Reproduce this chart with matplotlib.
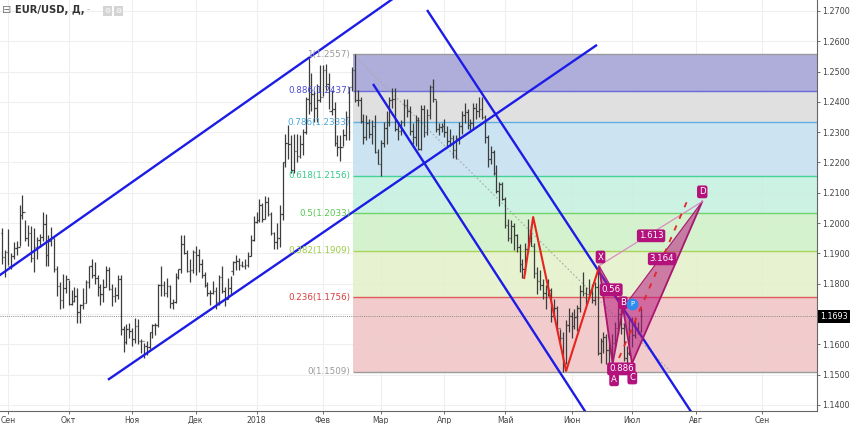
import numpy as np
import pandas as pd
import matplotlib
matplotlib.use("Agg")
import matplotlib.pyplot as plt
from matplotlib.collections import LineCollection
from matplotlib.patches import Polygon, Rectangle, Circle

# ---------------- data: EUR/USD daily bars (30 Aug 2017 .. 5 Jul 2018) ----------------
first_open = 1.1967
high = [
    1.1985, 1.1910, 1.1980,
    1.1900, 1.1938, 1.1940, 1.2060, 1.2092,
    1.2010, 1.1995, 1.1990, 1.1985, 1.1955,
    1.1965, 1.2035, 1.2030, 1.1960, 1.1987,
    1.1950, 1.1860, 1.1807, 1.1833, 1.1830,
    1.1813, 1.1780, 1.1790, 1.1785, 1.1733,
    1.1785, 1.1812, 1.1860, 1.1880, 1.1870,
    1.1830, 1.1800, 1.1815, 1.1860, 1.1855,
    1.1800, 1.1790, 1.1830, 1.1830, 1.1660,
    1.1668, 1.1670, 1.1655, 1.1688, 1.1685,
    1.1617, 1.1605, 1.1610, 1.1640, 1.1667,
    1.1670, 1.1800, 1.1860, 1.1810, 1.1820,
    1.1795, 1.1750, 1.1835, 1.1850, 1.1960,
    1.1960, 1.1910, 1.1880, 1.1910, 1.1925,
    1.1915, 1.1880, 1.1840, 1.1805, 1.1780,
    1.1810, 1.1790, 1.1830, 1.1860, 1.1790,
    1.1820, 1.1825, 1.1875, 1.1895, 1.1885,
    1.1875, 1.1880, 1.1905, 1.1960, 1.2025,
    1.2035, 1.2080, 1.2065, 1.2090, 1.2085,
    1.2035, 1.1970, 1.2000, 1.2060, 1.2200,
    1.2295, 1.2325, 1.2290, 1.2295, 1.2295,
    1.2290, 1.2310, 1.2415, 1.2545, 1.2495,
    1.2435, 1.2460, 1.2520, 1.2520, 1.2525,
    1.2495, 1.2440, 1.2400, 1.2290, 1.2290,
    1.2310, 1.2370, 1.2450, 1.2515, 1.2557,
    1.2440, 1.2415, 1.2360, 1.2355, 1.2345,
    1.2340, 1.2355, 1.2245, 1.2275, 1.2335,
    1.2370, 1.2415, 1.2445, 1.2445, 1.2335,
    1.2340, 1.2410, 1.2410, 1.2385, 1.2330,
    1.2355, 1.2350, 1.2390, 1.2390, 1.2375,
    1.2455, 1.2477, 1.2405, 1.2330, 1.2330,
    1.2345, 1.2320, 1.2310, 1.2290, 1.2290,
    1.2335, 1.2370, 1.2395, 1.2375, 1.2345,
    1.2395, 1.2395, 1.2415, 1.2415, 1.2355,
    1.2290, 1.2255, 1.2240, 1.2190, 1.2135,
    1.2135, 1.2085, 1.2015, 1.2010, 1.2000,
    1.1965, 1.1930, 1.1880, 1.1935, 1.2015,
    1.1995, 1.1935, 1.1855, 1.1845, 1.1815,
    1.1795, 1.1815, 1.1785, 1.1750, 1.1725,
    1.1650, 1.1640, 1.1680, 1.1720, 1.1705,
    1.1718, 1.1730, 1.1795, 1.1840, 1.1790,
    1.1815, 1.1800, 1.1805, 1.1852, 1.1620,
    1.1640, 1.1635, 1.1610, 1.1635, 1.1675,
    1.1720, 1.1715, 1.1670, 1.1595, 1.1690,
    1.1690, 1.1690, 1.1675, 1.1720,
]
low = [
    1.1866, 1.1823, 1.1862,
    1.1850, 1.1880, 1.1896, 1.1923, 1.2013,
    1.1940, 1.1925, 1.1870, 1.1837, 1.1880,
    1.1920, 1.1940, 1.1860, 1.1860, 1.1925,
    1.1840, 1.1760, 1.1717, 1.1720, 1.1770,
    1.1730, 1.1729, 1.1739, 1.1670, 1.1669,
    1.1715, 1.1737, 1.1785, 1.1820, 1.1800,
    1.1760, 1.1730, 1.1740, 1.1790, 1.1780,
    1.1725, 1.1740, 1.1750, 1.1630, 1.1575,
    1.1600, 1.1620, 1.1596, 1.1605, 1.1600,
    1.1570, 1.1555, 1.1565, 1.1584, 1.1620,
    1.1630, 1.1656, 1.1760, 1.1760, 1.1755,
    1.1720, 1.1715, 1.1735, 1.1815, 1.1835,
    1.1897, 1.1840, 1.1805, 1.1835, 1.1830,
    1.1840, 1.1820, 1.1790, 1.1760, 1.1730,
    1.1765, 1.1718, 1.1730, 1.1770, 1.1725,
    1.1750, 1.1765, 1.1830, 1.1846, 1.1845,
    1.1855, 1.1850, 1.1855, 1.1890, 1.1940,
    1.2000, 1.2005, 1.2005, 1.2015, 1.2025,
    1.1960, 1.1915, 1.1915, 1.1920, 1.2010,
    1.2185, 1.2210, 1.2165, 1.2165, 1.2200,
    1.2215, 1.2225, 1.2295, 1.2360, 1.2370,
    1.2335, 1.2335, 1.2400, 1.2420, 1.2440,
    1.2375, 1.2355, 1.2255, 1.2220, 1.2205,
    1.2255, 1.2275, 1.2275, 1.2435, 1.2400,
    1.2385, 1.2330, 1.2260, 1.2275, 1.2280,
    1.2260, 1.2230, 1.2195, 1.2155, 1.2250,
    1.2260, 1.2320, 1.2380, 1.2305, 1.2275,
    1.2290, 1.2320, 1.2350, 1.2290, 1.2260,
    1.2255, 1.2240, 1.2240, 1.2285, 1.2290,
    1.2345, 1.2400, 1.2300, 1.2290, 1.2300,
    1.2285, 1.2255, 1.2255, 1.2215, 1.2210,
    1.2260, 1.2295, 1.2330, 1.2310, 1.2300,
    1.2310, 1.2345, 1.2350, 1.2345, 1.2265,
    1.2185, 1.2195, 1.2160, 1.2100, 1.2055,
    1.2075, 1.1985, 1.1940, 1.1935, 1.1910,
    1.1905, 1.1840, 1.1820, 1.1835, 1.1905,
    1.1925, 1.1820, 1.1765, 1.1780, 1.1750,
    1.1715, 1.1760, 1.1675, 1.1690, 1.1645,
    1.1605, 1.1510, 1.1535, 1.1640, 1.1620,
    1.1650, 1.1645, 1.1705, 1.1760, 1.1730,
    1.1755, 1.1735, 1.1730, 1.1565, 1.1540,
    1.1570, 1.1535, 1.1540, 1.1530, 1.1590,
    1.1635, 1.1635, 1.1545, 1.1530, 1.1565,
    1.1590, 1.1620, 1.1635, 1.1640,
]
close = [
    1.1888, 1.1904, 1.1860,
    1.1890, 1.1917, 1.1920, 1.2027, 1.2035,
    1.1950, 1.1966, 1.1886, 1.1920, 1.1944,
    1.1954, 1.1996, 1.1895, 1.1940, 1.1951,
    1.1850, 1.1792, 1.1747, 1.1787, 1.1814,
    1.1733, 1.1743, 1.1760, 1.1705, 1.1730,
    1.1735, 1.1807, 1.1857, 1.1830, 1.1820,
    1.1790, 1.1767, 1.1790, 1.1845, 1.1783,
    1.1760, 1.1763, 1.1815, 1.1652, 1.1608,
    1.1650, 1.1645, 1.1618, 1.1660, 1.1610,
    1.1610, 1.1595, 1.1590, 1.1640, 1.1664,
    1.1665, 1.1795, 1.1795, 1.1770, 1.1793,
    1.1735, 1.1738, 1.1823, 1.1850, 1.1930,
    1.1900, 1.1843, 1.1845, 1.1905, 1.1895,
    1.1865, 1.1828, 1.1795, 1.1770, 1.1770,
    1.1775, 1.1740, 1.1823, 1.1777, 1.1748,
    1.1785, 1.1842, 1.1872, 1.1875, 1.1862,
    1.1860, 1.1862, 1.1890, 1.1945, 1.2005,
    1.2010, 1.2060, 1.2015, 1.2068, 1.2030,
    1.1966, 1.1937, 1.1950, 1.2030, 1.2200,
    1.2265, 1.2260, 1.2175, 1.2237, 1.2220,
    1.2262, 1.2300, 1.2408, 1.2396, 1.2425,
    1.2380, 1.2405, 1.2415, 1.2505, 1.2460,
    1.2370, 1.2375, 1.2265, 1.2250, 1.2250,
    1.2290, 1.2350, 1.2448, 1.2505, 1.2405,
    1.2405, 1.2338, 1.2285, 1.2330, 1.2293,
    1.2320, 1.2235, 1.2195, 1.2265, 1.2315,
    1.2335, 1.2405, 1.2410, 1.2310, 1.2305,
    1.2335, 1.2390, 1.2370, 1.2305, 1.2285,
    1.2340, 1.2245, 1.2375, 1.2300, 1.2355,
    1.2450, 1.2410, 1.2312, 1.2318, 1.2320,
    1.2300, 1.2270, 1.2280, 1.2240, 1.2280,
    1.2320, 1.2355, 1.2365, 1.2325, 1.2330,
    1.2380, 1.2370, 1.2375, 1.2350, 1.2285,
    1.2210, 1.2235, 1.2165, 1.2105, 1.2130,
    1.2080, 1.1993, 1.1950, 1.1990, 1.1960,
    1.1920, 1.1865, 1.1850, 1.1915, 1.1942,
    1.1925, 1.1835, 1.1810, 1.1795, 1.1770,
    1.1790, 1.1780, 1.1695, 1.1720, 1.1655,
    1.1620, 1.1540, 1.1665, 1.1695, 1.1660,
    1.1690, 1.1720, 1.1775, 1.1770, 1.1765,
    1.1780, 1.1745, 1.1790, 1.1570, 1.1610,
    1.1625, 1.1580, 1.1570, 1.1605, 1.1655,
    1.1700, 1.1655, 1.1555, 1.1570, 1.1685,
    1.1630, 1.1655, 1.1645, 1.1693,
]
first_date = "2017-08-30"
base_date = "2017-08-28"          # bar-index origin (business days)
last_price = 1.1693

month_labels = ["Сен", "Окт", "Ноя", "Дек", "2018", "Фев", "Мар", "Апр",
                "Май", "Июн", "Июл", "Авг", "Сен"]
month_starts = pd.date_range("2017-09-01", "2018-09-01", freq="MS")
price_ticks = [1.14, 1.15, 1.16, 1.18, 1.19, 1.20, 1.21, 1.22, 1.23,
               1.24, 1.25, 1.26, 1.27]

# Fibonacci retracement (anchor index, prices)
fib_start = 123.4
fib_end_anchor = 233.4
fib_ratio_labels = ["1", "0.886", "0.786", "0.618", "0.5", "0.382", "0.236", "0"]
fib_prices = [1.2557, 1.2437, 1.2333, 1.2156, 1.2033, 1.1909, 1.1756, 1.1509]
fib_line_colors = ["#9a9a9a", "#6a6ad8", "#5fb0e0", "#45d39a", "#6fd46a",
                   "#a9d65a", "#e05a5a", "#9a9a9a"]
fib_text_colors = ["#9a9a9a", "#4b4bd6", "#4aa6da", "#36c98a", "#55c94e",
                   "#9ccb45", "#d83c3c", "#9a9a9a"]
fib_zone_colors = ["#a9a8d9", "#dedede", "#c9e1f1", "#c9f1e1", "#d2f1cb",
                   "#e5f1cd", "#f1c9c9"]

# trend channels (bar index, price)
asc_upper = [(-2.0, 1.1807), (140.0, 1.2759)]
asc_lower = [(38.6, 1.1483), (207.8, 1.2588)]
desc_inner = [(130.3, 1.2459), (205.5, 1.1352)]
desc_outer = [(149.0, 1.2703), (243.0, 1.1339)]

# red zig-zag
zig_x = [182.6, 185.7, 197.1, 208.5]
zig_y = [1.1819, 1.2020, 1.1512, 1.1855]

# harmonic pattern points X A B C D
pat_names = ["X", "A", "B", "C", "D"]
pat_x = [208.5, 213.2, 216.8, 219.9, 244.2]
pat_y = [1.1859, 1.1537, 1.1720, 1.1537, 1.2071]
red_dash = [(215.4, 1.1555), (239.3, 1.2080)]
pat_tags = [("X", 209.0, 1.1888), ("A", 213.7, 1.1483), ("0.886", 216.2, 1.1519),
            ("C", 220.0, 1.1489), ("B", 216.7, 1.1737), ("0.56", 212.7, 1.1780),
            ("1.613", 226.5, 1.1958), ("3.164", 230.3, 1.1882), ("D", 244.2, 1.2103)]
p_marker = (220.0, 1.1733)

# ---------------- figure ----------------
W, H = 850, 424
fig = plt.figure(figsize=(W / 100, H / 100), dpi=100)
fig.patch.set_facecolor("white")
ax = fig.add_axes([0, 13 / H, 817 / W, 411 / H])
x_lo, x_hi = 1.25, 283.9
y_lo, y_hi = 1.1380, 1.2736
ax.set_xlim(x_lo, x_hi)
ax.set_ylim(y_lo, y_hi)

dates = pd.bdate_range(first_date, periods=len(close))
xi = np.busday_count(np.datetime64(base_date),
                     dates.values.astype("datetime64[D]")).astype(float)
opens = [first_open] + close[:-1]

# grid
month_idx = [float(np.busday_count(np.datetime64(base_date),
                                   np.busday_offset(np.datetime64(d.date()), 0, roll="forward")))
             for d in month_starts]
for p in np.arange(1.14, 1.2701, 0.01):
    ax.axhline(p, color="#efefef", lw=0.8, zorder=0)
for m in month_idx:
    ax.axvline(m, color="#efefef", lw=0.8, zorder=0)

# fib zones
for k in range(len(fib_zone_colors)):
    ax.fill_between([fib_start, x_hi + 5], fib_prices[k + 1], fib_prices[k],
                    color=fib_zone_colors[k], lw=0, zorder=1, alpha=0.93)
for k, p in enumerate(fib_prices):
    ax.hlines(p, fib_start, x_hi + 5, color=fib_line_colors[k], lw=1.0, zorder=1.5)
    ax.text(fib_start - 1.0, p, f"{fib_ratio_labels[k]}({p:.4f})", ha="right",
            va="center", fontsize=6.3, color=fib_text_colors[k], zorder=6)
ax.plot([fib_start, fib_end_anchor], [fib_prices[0], fib_prices[-1]],
        color="#a8a8a8", lw=0.8, ls=(0, (1.5, 2)), zorder=2)

# last price line
ax.axhline(last_price, color="#8a8a8a", lw=0.7, ls=(0, (1, 1.2)), zorder=2)

# OHLC bars
segs = []
tw = 0.45
for x, o, h, l, c in zip(xi, opens, high, low, close):
    segs.append([(x, l), (x, h)])
    segs.append([(x - tw, o), (x, o)])
    segs.append([(x, c), (x + tw, c)])
ax.add_collection(LineCollection(segs, colors="#3c3c3c", linewidths=0.9, zorder=3))

# channels
blue = "#1c1ce6"
for ln in (asc_upper, asc_lower, desc_inner, desc_outer):
    ax.plot([ln[0][0], ln[1][0]], [ln[0][1], ln[1][1]], color=blue, lw=1.7,
            zorder=4, solid_capstyle="butt")

# red zig-zag
ax.plot(zig_x, zig_y, color="#e8231f", lw=1.5, zorder=4.5)

# harmonic pattern
pc = "#b8197f"
X, A, B, C, D = list(zip(pat_x, pat_y))
ax.add_patch(Polygon([X, A, B], closed=True, fc=pc, ec="none", alpha=0.55, zorder=4.2))
ax.add_patch(Polygon([B, C, D], closed=True, fc=pc, ec="none", alpha=0.55, zorder=4.2))
ax.plot([X[0], A[0], B[0], C[0], D[0]], [X[1], A[1], B[1], C[1], D[1]],
        color="#a8176f", lw=1.3, zorder=4.6)
ax.plot([X[0], B[0]], [X[1], B[1]], color="#a8176f", lw=0.8, zorder=4.6)
ax.plot([B[0], D[0]], [B[1], D[1]], color="#a8176f", lw=0.8, zorder=4.6)
ax.plot([X[0], D[0]], [X[1], D[1]], color="#d88cc0", lw=0.9, zorder=4.6)
ax.plot([red_dash[0][0], red_dash[1][0]], [red_dash[0][1], red_dash[1][1]],
        color="#e02828", lw=1.3, ls=(0, (3, 4)), zorder=4.7)

for s, tx, ty in pat_tags:
    ax.text(tx, ty, s, color="white", fontsize=6.2, ha="center", va="center",
            zorder=7, bbox=dict(boxstyle="round,pad=0.22,rounding_size=0.25",
                                fc="#b3127c", ec="none"))
ax.plot([p_marker[0]], [p_marker[1]], "o", ms=7.5, color="#2d8cf0", zorder=7.5)
ax.text(p_marker[0], p_marker[1], "P", color="white", fontsize=5, ha="center",
        va="center", zorder=8)

# axes styling
for sp in ("top", "left"):
    ax.spines[sp].set_visible(False)
ax.spines["right"].set_color("#666666")
ax.spines["bottom"].set_color("#666666")
ax.spines["right"].set_linewidth(0.8)
ax.spines["bottom"].set_linewidth(0.8)
ax.yaxis.tick_right()
ax.set_yticks(price_ticks)
ax.set_yticklabels([f"{p:.4f}" for p in price_ticks])
ax.tick_params(axis="y", length=2, width=0.6, colors="#555555", labelsize=5.8,
               pad=1.5, labelcolor="#444444")
ax.set_xticks(month_idx)
ax.set_xticklabels(month_labels)
ax.tick_params(axis="x", length=2, width=0.6, colors="#555555", labelsize=5.6,
               pad=1.5, labelcolor="#444444")
ax.set_facecolor("white")

# last-price label
ax.text(1.004, last_price, f"{last_price:.4f}", transform=ax.get_yaxis_transform(),
        ha="left", va="center", fontsize=5.8, color="white", zorder=10,
        bbox=dict(boxstyle="square,pad=0.25", fc="black", ec="none"), clip_on=False)

# title area
fig.text(2 / W, 1 - 10 / H, "⊟", fontsize=8, color="#777777", va="center", ha="left")
fig.text(15 / W, 1 - 10 / H, "EUR/USD, Д,", fontsize=7.2, fontweight="bold",
         color="#333333", va="center", ha="left")
fig.text(87 / W, 1 - 10 / H, "-", fontsize=6, color="#aaaaaa", va="center", ha="left")
for x0 in (103, 114):
    fig.add_artist(Rectangle((x0 / W, 1 - 16 / H), 9 / W, 10 / H, transform=fig.transFigure,
                             fc="#d4d4d4", ec="none"))
    fig.text((x0 + 4.5) / W, 1 - 11 / H, "⚙", fontsize=5, color="white",
             ha="center", va="center")

fig.savefig("out.png", dpi=100)
